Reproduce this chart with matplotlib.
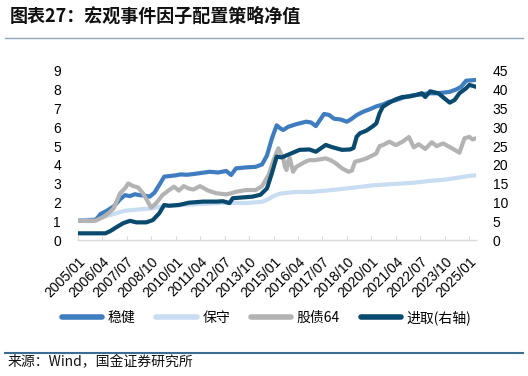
import matplotlib
matplotlib.use("Agg")
import matplotlib.pyplot as plt
from matplotlib.lines import Line2D
import pandas as pd

# ---------------- data ----------------
wj_dates = ["2005-01","2005-07","2005-12","2006-03","2006-07","2006-11","2007-03","2007-06","2007-09","2007-12",
            "2008-03","2008-06","2008-09","2008-12","2009-03","2009-06","2009-09","2010-01","2010-04","2010-08",
            "2010-12","2011-05","2011-10","2012-03","2012-08","2012-11","2013-02","2013-08","2014-02","2014-06",
            "2014-09","2014-12","2015-03","2015-05","2015-07","2015-10","2016-03","2016-09","2016-12","2017-03",
            "2017-06","2017-08","2017-11","2018-02","2018-06","2018-10","2019-01","2019-04","2019-08","2019-12",
            "2020-04","2020-08","2020-12","2021-04","2021-08","2021-12","2022-04","2022-08","2022-12","2023-04",
            "2023-08","2024-01","2024-05","2024-08","2024-11","2025-02","2025-05"]
wj_vals = [1.05,1.05,1.08,1.4,1.58,1.8,2.18,2.4,2.35,2.45,
           2.4,2.38,2.32,2.53,2.94,3.38,3.41,3.45,3.5,3.48,
           3.52,3.58,3.64,3.6,3.68,3.47,3.82,3.87,3.9,4.03,
           4.5,5.4,6.1,5.95,5.85,6.02,6.16,6.29,6.25,6.06,
           6.45,6.7,6.65,6.45,6.41,6.29,6.45,6.64,6.82,6.95,
           7.1,7.2,7.35,7.43,7.55,7.65,7.7,7.73,7.8,7.79,
           7.82,7.87,8.0,8.14,8.46,8.48,8.5]

bs_dates = ["2005-01","2006-01","2006-09","2007-06","2008-10","2009-06","2010-01","2011-04","2012-08","2013-08",
            "2014-06","2014-10","2015-01","2015-05","2016-01","2017-01","2017-09","2018-10","2020-02","2021-02",
            "2022-02","2022-12","2023-10","2024-08","2025-01","2025-05"]
bs_vals = [1.05,1.15,1.35,1.58,1.7,1.82,1.86,1.93,2.0,1.98,
           2.05,2.2,2.35,2.48,2.56,2.58,2.64,2.76,2.92,2.99,
           3.05,3.15,3.22,3.35,3.42,3.45]

gz_dates = ["2005-01","2005-07","2005-12","2006-05","2006-08","2006-11","2007-01","2007-03","2007-06","2007-08",
            "2007-11","2008-02","2008-05","2008-08","2008-10","2009-01","2009-05","2009-09","2009-12","2010-03",
            "2010-06","2010-09","2010-12","2011-04","2011-09","2012-02","2012-08","2012-11","2013-02","2013-08",
            "2014-02","2014-06","2014-10","2015-01","2015-04","2015-06","2015-07","2015-08","2015-09","2015-10",
            "2015-11","2016-01","2016-03","2016-05","2016-08","2016-11","2017-02","2017-05","2017-09","2017-12",
            "2018-03","2018-07","2018-11","2019-01","2019-03","2019-07","2019-10","2020-02","2020-04","2020-06",
            "2020-08","2020-12","2021-04","2021-08","2021-12","2022-03","2022-06","2022-10","2023-02","2023-05",
            "2023-09","2024-01","2024-04","2024-07","2024-10","2025-01","2025-03","2025-05"]
gz_vals = [1.05,1.03,1.05,1.26,1.45,1.7,2.1,2.5,2.76,3.02,
           2.88,2.81,2.5,2.05,1.74,1.97,2.41,2.67,2.85,2.64,
           2.88,2.75,2.7,2.88,2.64,2.5,2.44,2.5,2.58,2.67,
           2.67,2.88,3.47,4.26,4.88,4.5,4.35,3.9,3.73,4.2,
           4.35,3.64,3.9,4.0,4.15,4.26,4.25,4.29,4.35,4.25,
           4.1,3.82,3.64,3.7,4.17,4.26,4.35,4.52,4.61,5.0,
           5.05,5.23,5.05,5.23,5.48,4.93,5.1,4.85,5.2,5.0,
           5.14,4.95,4.8,4.65,5.41,5.49,5.35,5.41]

jq_dates = ["2005-01","2006-06","2006-09","2007-01","2007-05","2007-09","2008-01","2008-07","2008-11","2009-03",
            "2009-06","2009-09","2010-03","2010-09","2011-06","2012-02","2012-06","2012-10","2012-12","2013-06",
            "2013-12","2014-05","2014-09","2014-12","2015-03","2015-06","2015-11","2016-05","2016-11","2017-03",
            "2017-06","2017-09","2018-01","2018-07","2018-12","2019-02","2019-04","2019-06","2019-10","2020-02",
            "2020-04","2020-06","2020-08","2020-12","2021-04","2021-08","2021-12","2022-04","2022-08","2022-10",
            "2023-01","2023-06","2023-09","2024-01","2024-04","2024-07","2024-11","2025-01","2025-05"]
jq_vals = [1.9,1.9,2.5,3.6,4.6,5.2,4.8,4.8,5.4,7.2,
           9.4,9.2,9.4,10.0,10.3,10.3,10.4,9.9,11.2,11.4,
           11.6,12.1,13.8,17.8,22.2,22.0,22.9,24.0,24.1,23.5,
           24.4,25.3,24.7,24.0,24.1,24.5,27.5,28.4,29.1,30.3,
           31.0,33.7,35.4,36.5,37.4,38.0,38.1,38.5,39.0,38.0,
           39.5,39.0,37.9,36.5,37.2,39.0,40.3,41.2,40.7]

series_names = ["稳健", "保守", "股债64", "进取(右轴)"]
tick_labels = ["2005/01","2006/04","2007/07","2008/10","2010/01","2011/04","2012/07","2013/10","2015/01",
               "2016/04","2017/07","2018/10","2020/01","2021/04","2022/07","2023/10","2025/01"]
left_ticks = [0,1,2,3,4,5,6,7,8,9]
right_ticks = [0,5,10,15,20,25,30,35,40,45]

# ---------------- style ----------------
C_WJ = "#3f7cc0"
C_BS = "#c8ddf1"
C_GZ = "#b3b3b3"
C_JQ = "#0b4a6f"
CJK = ["Noto Sans CJK SC", "DejaVu Sans"]
NUM = "Liberation Sans"
LW = 3.0

fig = plt.figure(figsize=(5.28, 3.76), dpi=100)
ax = fig.add_axes([0.1473, 0.3604, 0.7542, 0.452])
ax2 = ax.twinx()

d = pd.to_datetime
ax.plot(d(wj_dates), wj_vals, color=C_WJ, lw=LW, solid_capstyle="round", zorder=3)
ax.plot(d(bs_dates), bs_vals, color=C_BS, lw=LW, solid_capstyle="round", zorder=2)
ax.plot(d(gz_dates), gz_vals, color=C_GZ, lw=LW, solid_capstyle="round", zorder=4)
ax2.plot(d(jq_dates), jq_vals, color=C_JQ, lw=LW, solid_capstyle="round", zorder=5)

ax.set_ylim(0, 9)
ax2.set_ylim(0, 45)
ax.set_yticks(left_ticks)
ax2.set_yticks(right_ticks)
ax.set_yticklabels([str(v) for v in left_ticks], fontname=NUM, fontsize=10)
ax2.set_yticklabels([str(v) for v in right_ticks], fontname=NUM, fontsize=10)

xmin, xmax = pd.Timestamp("2005-01-01"), pd.Timestamp("2025-05-05")
ax.set_xlim(xmin, xmax)
ticks = pd.to_datetime([t.replace("/", "-") for t in tick_labels])
ax.set_xticks(ticks)
ax.set_xticklabels(tick_labels, rotation=45, ha="right", va="top",
                   rotation_mode="anchor", fontname=NUM, fontsize=10)

for a in (ax, ax2):
    for s in ("top", "left", "right"):
        a.spines[s].set_visible(False)
    a.spines["bottom"].set_color("#d9d9d9")
    a.spines["bottom"].set_linewidth(1.0)
ax2.spines["bottom"].set_visible(False)

ax.tick_params(axis="x", direction="in", length=3, color="#d9d9d9", pad=10)
ax.tick_params(axis="y", length=0, pad=12)
ax2.tick_params(axis="y", length=0, pad=12)
ax.set_zorder(1)
ax2.set_zorder(2)

# title and rules
fig.text(0.019, 0.957, "图表27：宏观事件因子配置策略净值", family=CJK, fontsize=13,
         fontweight="bold", ha="left", va="center", color="#111111")
fig.add_artist(Line2D([0.01, 0.99], [0.898, 0.898], color="#8fa7b9", lw=1.0))
fig.add_artist(Line2D([0.01, 0.99], [0.061, 0.061], color="#3a6d92", lw=1.5))
fig.text(0.015, 0.037, "来源：Wind，国金证券研究所", family=CJK, fontsize=10,
         ha="left", va="center", color="#111111")

# legend
handles = [Line2D([], [], color=c, lw=4, solid_capstyle="round") for c in (C_WJ, C_BS, C_GZ, C_JQ)]
fig.legend(handles, series_names, loc="center", bbox_to_anchor=(0.505, 0.155), ncol=4,
           frameon=False, prop={"family": CJK, "size": 10}, handlelength=2.9,
           handletextpad=0.4, columnspacing=1.5)

fig.savefig("out.png", dpi=100)
